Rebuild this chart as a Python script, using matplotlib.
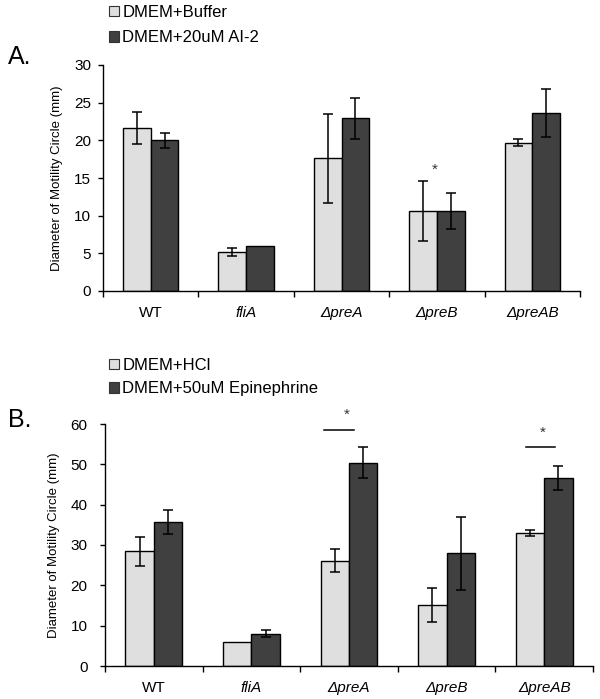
"""
Swimming motility of preA/preB mutants -- two stacked grouped bar charts
A: DMEM + buffer vs AI-2, B: DMEM + HCl vs epinephrine.
"""

import numpy as np
import matplotlib
matplotlib.use("Agg")
import matplotlib.pyplot as plt
import matplotlib.patches as mpatches

# ---------------------------------------------------------------------------
# Data
# ---------------------------------------------------------------------------
strains = ["WT", "fliA", "\u0394preA", "\u0394preB", "\u0394preAB"]
italic_label = [False, True, True, True, True]

a_buffer = [21.6, 5.2, 17.6, 10.6, 19.7]
a_buffer_err = [2.1, 0.55, 5.9, 4.0, 0.5]
a_ai2 = [20.0, 6.0, 22.9, 10.6, 23.6]
a_ai2_err = [1.0, np.nan, 2.7, 2.4, 3.2]

b_hcl = [28.5, 6.0, 26.1, 15.1, 33.0]
b_hcl_err = [3.6, np.nan, 2.8, 4.2, 0.8]
b_epi = [35.7, 8.0, 50.4, 27.9, 46.7]
b_epi_err = [3.0, 0.9, 3.8, 9.0, 3.0]

# significance marks: (strain index, star value, bar value or None, bar x-span)
a_sig = [(3, 16.1, None, None)]
b_sig = [(2, 62.4, 58.6, (-0.26, 0.05)), (4, 57.9, 54.2, (-0.19, 0.11))]

# ---------------------------------------------------------------------------
# Style
# ---------------------------------------------------------------------------
plt.rcParams.update({
    "font.family": ["Liberation Sans", "DejaVu Sans"],
    "axes.linewidth": 1.0,
})
LIGHT = "#DFDFDF"
DARK = "#404040"
EDGE = "#000000"
BAR_W = 0.29

W, H = 600, 699
fig = plt.figure(figsize=(W / 100, H / 100), dpi=100, facecolor="white")


def px_axes(left, right, top, bottom):
    return fig.add_axes([left / W, 1 - bottom / H, (right - left) / W, (bottom - top) / H])


def draw_panel(ax, light, light_err, dark, dark_err, ymax, ystep, ypad):
    x = np.arange(len(strains)) + 0.5
    ax.bar(x - BAR_W / 2, light, BAR_W, color=LIGHT, edgecolor=EDGE, linewidth=1.0, zorder=2)
    ax.bar(x + BAR_W / 2, dark, BAR_W, color=DARK, edgecolor=EDGE, linewidth=1.0, zorder=2)
    for off, vals, errs in [(-BAR_W / 2, light, light_err), (BAR_W / 2, dark, dark_err)]:
        errs = np.array(errs, dtype=float)
        ok = ~np.isnan(errs)
        ax.errorbar((x + off)[ok], np.array(vals)[ok], yerr=errs[ok], fmt="none",
                    ecolor="black", elinewidth=1.1, capsize=3.5, capthick=1.1, zorder=3)

    ax.set_xlim(0, len(strains))
    ax.set_ylim(0, ymax)
    ax.set_yticks(np.arange(0, ymax + 1, ystep))
    for s in ("top", "right"):
        ax.spines[s].set_visible(False)

    ax.set_xticks(x)
    ax.set_xticklabels(strains)
    for lab, it in zip(ax.get_xticklabels(), italic_label):
        lab.set_fontstyle("italic" if it else "normal")
    ax.set_xticks(np.arange(len(strains) + 1), minor=True)
    ax.tick_params(axis="x", which="major", length=0, pad=11, labelsize=11, colors="black")
    ax.tick_params(axis="x", which="minor", length=4, width=1.0, direction="out")
    ax.tick_params(axis="y", length=3.5, width=1.0, direction="out", labelsize=11, pad=ypad)
    ax.set_ylabel("Diameter of Motility Circle (mm)", fontsize=9.5, labelpad=8)


def draw_sig(ax, marks):
    for idx, star_y, bar_y, span in marks:
        cx = idx + 0.5
        ax.text(cx - 0.02, star_y, "*", ha="center", va="center", fontsize=11,
                color="#333333", clip_on=False)
        if bar_y is not None:
            ax.plot([cx + span[0], cx + span[1]], [bar_y, bar_y], color="black",
                    lw=1.1, clip_on=False)


# ---------------------------------------------------------------------------
# Panel A
# ---------------------------------------------------------------------------
ax_a = px_axes(103, 580, 65, 291)
draw_panel(ax_a, a_buffer, a_buffer_err, a_ai2, a_ai2_err, 30, 5, 5)
draw_sig(ax_a, a_sig)

leg_a = fig.legend(
    handles=[mpatches.Patch(fc=LIGHT, ec="#333333", lw=0.8, label="DMEM+Buffer"),
             mpatches.Patch(fc=DARK, ec="#333333", lw=0.8, label="DMEM+20uM AI-2")],
    loc="upper left", bbox_to_anchor=(109 / W, 1 - 5 / H), frameon=False,
    fontsize=12, handlelength=0.6, handleheight=0.6, handletextpad=0.2,
    labelspacing=0.62, borderpad=0, borderaxespad=0,
)
fig.text(8 / W, 1 - 57 / H, "A.", fontsize=18, va="center", ha="left")

# ---------------------------------------------------------------------------
# Panel B
# ---------------------------------------------------------------------------
ax_b = px_axes(105, 593, 424, 666)
draw_panel(ax_b, b_hcl, b_hcl_err, b_epi, b_epi_err, 60, 10, 9)
draw_sig(ax_b, b_sig)

leg_b = fig.legend(
    handles=[mpatches.Patch(fc=LIGHT, ec="#333333", lw=0.8, label="DMEM+HCl"),
             mpatches.Patch(fc=DARK, ec="#333333", lw=0.8, label="DMEM+50uM Epinephrine")],
    loc="upper left", bbox_to_anchor=(109 / W, 1 - 358 / H), frameon=False,
    fontsize=12, handlelength=0.6, handleheight=0.6, handletextpad=0.2,
    labelspacing=0.5, borderpad=0, borderaxespad=0,
)
fig.text(8 / W, 1 - 420 / H, "B.", fontsize=18, va="center", ha="left")

fig.savefig("out.png", dpi=100, facecolor="white")
plt.close(fig)
